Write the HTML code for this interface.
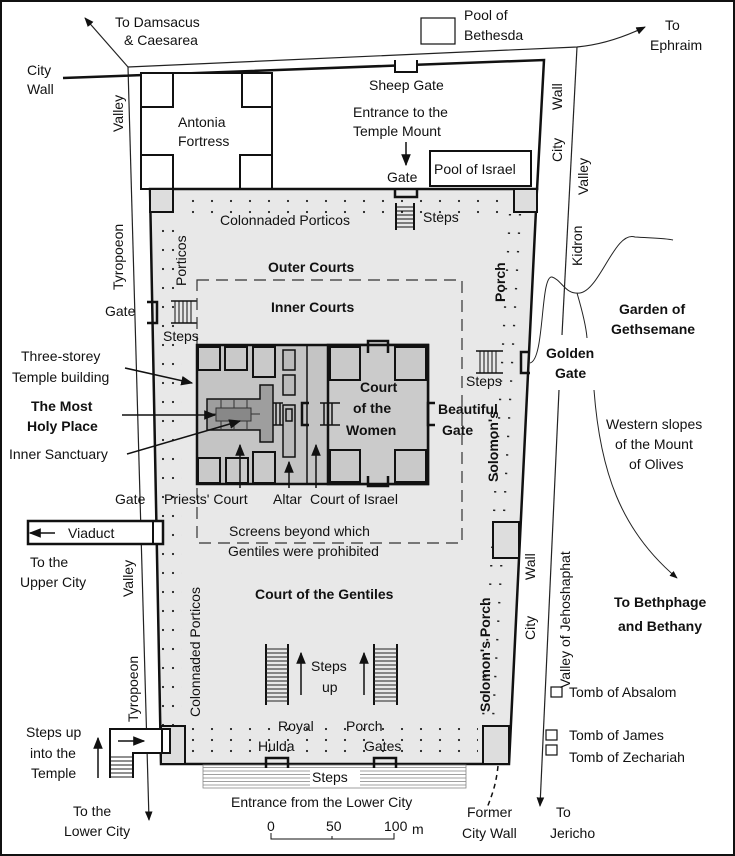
<!DOCTYPE html>
<html><head><meta charset="utf-8"><style>
html,body{margin:0;padding:0;background:#fff}
svg{display:block}
text{font-family:"Liberation Sans",Arial,sans-serif;font-size:14px;fill:#111}
.b{font-weight:bold}
</style></head><body>
<svg width="735" height="856" viewBox="0 0 735 856" xmlns="http://www.w3.org/2000/svg">
<defs>
<pattern id="dots" width="19" height="11" patternUnits="userSpaceOnUse"><circle cx="3" cy="3" r="1.1" fill="#222"/></pattern>
<pattern id="dotsv" width="10" height="19" patternUnits="userSpaceOnUse"><circle cx="3" cy="3" r="1.1" fill="#222"/></pattern>
<marker id="ar" viewBox="0 0 10 10" refX="9" refY="5" markerWidth="8" markerHeight="8" orient="auto-start-reverse"><path d="M0,1 L10,5 L0,9 z" fill="#111"/></marker>
<pattern id="hl" width="10" height="4" patternUnits="userSpaceOnUse"><line x1="0" y1="1" x2="10" y2="1" stroke="#222" stroke-width="1"/></pattern>
<pattern id="hl2" width="10" height="3.5" patternUnits="userSpaceOnUse"><line x1="0" y1="1" x2="10" y2="1" stroke="#888" stroke-width="0.8"/></pattern>
</defs>
<rect x="1" y="1" width="733" height="854" fill="#fff" stroke="#111" stroke-width="2"/>

<path d="M128,67 L577,47 Q610,44 645,27" fill="none" stroke="#222" stroke-width="1.2" marker-end="url(#ar)"/>
<path d="M128,67 L85,18" fill="none" stroke="#222" stroke-width="1.2" marker-end="url(#ar)"/>
<path d="M128,67 L149,820" fill="none" stroke="#222" stroke-width="1.2" marker-end="url(#ar)"/>
<path d="M577,47 L562,335" fill="none" stroke="#222" stroke-width="1.2"/>
<path d="M559,390 L540,806" fill="none" stroke="#222" stroke-width="1.2" marker-end="url(#ar)"/>
<path d="M530,363 C545,360 540,275 552,277 C562,280 565,295 580,293 C600,290 615,230 635,237 C650,238 665,238 673,240" fill="none" stroke="#222" stroke-width="1"/>
<path d="M577,293 C582,310 586,325 587,338" fill="none" stroke="#222" stroke-width="1"/>
<path d="M594,390 C600,470 620,530 677,578" fill="none" stroke="#222" stroke-width="1" marker-end="url(#ar)"/>

<path d="M63,78 L544,60 L537,190" fill="none" stroke="#111" stroke-width="2.5"/>
<rect x="141" y="73" width="131" height="116" fill="#fff" stroke="#111" stroke-width="2"/>
<rect x="141" y="73" width="32" height="34" fill="#fff" stroke="#111" stroke-width="2"/>
<rect x="242" y="73" width="30" height="34" fill="#fff" stroke="#111" stroke-width="2"/>
<rect x="141" y="155" width="32" height="34" fill="#fff" stroke="#111" stroke-width="2"/>
<rect x="240" y="155" width="32" height="34" fill="#fff" stroke="#111" stroke-width="2"/>
<path d="M395,60 L395,72 L417,72 L417,60" fill="#fff" stroke="#111" stroke-width="2"/>
<rect x="430" y="151" width="101" height="35" fill="#fff" stroke="#111" stroke-width="2"/>
<rect x="421" y="18" width="34" height="26" fill="#fff" stroke="#111" stroke-width="1.2"/>

<path d="M150,189 L537,189 L509,764 L161,764 Z" fill="#e8e8e8" stroke="#111" stroke-width="2.5"/>
<g>
<rect x="175" y="197" width="335" height="20" fill="url(#dots)"/>
<rect x="162" y="225" width="20" height="500" fill="url(#dotsv)"/>
<rect x="188" y="728" width="290" height="30" fill="url(#dots)"/>
</g>
<path d="M520,214 L493,720" stroke="#222" stroke-width="2.2" stroke-dasharray="1.5 17" fill="none"/>
<path d="M510,214 L483,720" stroke="#222" stroke-width="2.2" stroke-dasharray="1.5 17" fill="none"/>
<rect x="150" y="189" width="23" height="23" fill="#ddd" stroke="#111" stroke-width="2"/>
<rect x="514" y="189" width="23" height="23" fill="#ddd" stroke="#111" stroke-width="2"/>
<rect x="493" y="522" width="26" height="36" fill="#ddd" stroke="#111" stroke-width="2"/>
<rect x="483" y="726" width="26" height="38" fill="#ddd" stroke="#111" stroke-width="2"/>
<rect x="161" y="726" width="24" height="38" fill="#ddd" stroke="#111" stroke-width="2"/>
<path d="M395,189 L395,197 L417,197 L417,189" fill="none" stroke="#111" stroke-width="2.5"/>
<g stroke="#111" stroke-width="1"><line x1="396" y1="203" x2="396" y2="230" stroke-width="2"/><line x1="414" y1="203" x2="414" y2="230" stroke-width="2"/>
<line x1="396" y1="207" x2="414" y2="207"/><line x1="396" y1="211" x2="414" y2="211"/><line x1="396" y1="215" x2="414" y2="215"/><line x1="396" y1="219" x2="414" y2="219"/><line x1="396" y1="223" x2="414" y2="223"/><line x1="396" y1="227" x2="414" y2="227"/></g>
<path d="M147,302 L157,302 L157,323 L147,323" fill="none" stroke="#111" stroke-width="2.5"/>
<g stroke="#111" stroke-width="1"><line x1="171" y1="301" x2="197" y2="301" stroke-width="1.5"/><line x1="171" y1="323" x2="197" y2="323" stroke-width="1.5"/>
<line x1="175" y1="301" x2="175" y2="323"/><line x1="179" y1="301" x2="179" y2="323"/><line x1="183" y1="301" x2="183" y2="323"/><line x1="187" y1="301" x2="187" y2="323"/><line x1="191" y1="301" x2="191" y2="323"/></g>
<g stroke="#111" stroke-width="1"><line x1="476" y1="351" x2="503" y2="351" stroke-width="1.5"/><line x1="476" y1="373" x2="503" y2="373" stroke-width="1.5"/>
<line x1="480" y1="351" x2="480" y2="373"/><line x1="484" y1="351" x2="484" y2="373"/><line x1="488" y1="351" x2="488" y2="373"/><line x1="492" y1="351" x2="492" y2="373"/><line x1="496" y1="351" x2="496" y2="373"/></g>
<path d="M530,352 L521,352 L521,373 L530,373" fill="none" stroke="#111" stroke-width="2.5"/>

<rect x="197" y="280" width="265" height="263" fill="none" stroke="#333" stroke-width="1.2" stroke-dasharray="12 7"/>

<rect x="197" y="345" width="231" height="139" fill="#c4c4c4" stroke="#111" stroke-width="2.5"/>
<rect x="328" y="345" width="100" height="139" fill="#cbcbcb" stroke="#111" stroke-width="2.5"/>
<line x1="307" y1="345" x2="307" y2="484" stroke="#111" stroke-width="1.5"/>
<g fill="#c9c9c9" stroke="#111" stroke-width="2">
<rect x="330" y="347" width="30" height="33"/><rect x="395" y="347" width="31" height="33"/>
<rect x="330" y="450" width="30" height="32"/><rect x="395" y="450" width="31" height="32"/>
<rect x="198" y="347" width="22" height="23"/><rect x="225" y="347" width="22" height="23"/><rect x="253" y="347" width="22" height="30"/>
<rect x="198" y="458" width="22" height="25"/><rect x="226" y="458" width="22" height="25"/><rect x="253" y="452" width="22" height="31"/>
</g>
<g stroke="#111" stroke-width="1.5" fill="#bbb">
<rect x="283" y="350" width="12" height="20"/><rect x="283" y="375" width="12" height="20"/>
<rect x="283" y="405" width="12" height="52"/><rect x="286" y="409" width="6" height="12"/>
</g>
<path d="M260,385 L273,385 L273,442 L260,442 L260,430 L207,430 L207,399 L260,399 Z" fill="#9e9e9e" stroke="#111" stroke-width="1.5"/>
<g stroke="#333" stroke-width="1" fill="none"><line x1="221" y1="399" x2="221" y2="430"/><line x1="234" y1="399" x2="234" y2="430"/><line x1="247" y1="399" x2="247" y2="430"/><line x1="207" y1="414" x2="260" y2="414"/></g>
<rect x="216" y="408" width="35" height="13" fill="#888" stroke="#333" stroke-width="1"/>
<g stroke="#111" stroke-width="1.5" fill="none">
<line x1="273" y1="403" x2="283" y2="403"/><line x1="273" y1="425" x2="283" y2="425"/><line x1="276" y1="403" x2="276" y2="425"/><line x1="280" y1="403" x2="280" y2="425"/>
<line x1="320" y1="403" x2="340" y2="403"/><line x1="320" y1="425" x2="340" y2="425"/><line x1="324" y1="403" x2="324" y2="425"/><line x1="328" y1="403" x2="328" y2="425"/><line x1="332" y1="403" x2="332" y2="425"/>
</g>
<path d="M309,403 L302,403 L302,425 L309,425" fill="none" stroke="#111" stroke-width="2.5"/>
<path d="M435,403 L428,403 L428,425 L435,425" fill="none" stroke="#111" stroke-width="2.5"/>
<path d="M368,353 L368,341 L388,341 L388,353" fill="none" stroke="#111" stroke-width="2.5"/>
<path d="M368,476 L368,486 L388,486 L388,476" fill="none" stroke="#111" stroke-width="2.5"/>

<g stroke="#111" stroke-width="1.5" fill="none">
<line x1="240" y1="488" x2="240" y2="445" marker-end="url(#ar)"/>
<line x1="289" y1="488" x2="289" y2="462" marker-end="url(#ar)"/>
<line x1="316" y1="488" x2="316" y2="445" marker-end="url(#ar)"/>
<line x1="125" y1="368" x2="192" y2="383" marker-end="url(#ar)"/>
<line x1="122" y1="415" x2="215" y2="415" marker-end="url(#ar)"/>
<line x1="127" y1="454" x2="240" y2="421" marker-end="url(#ar)"/>
<line x1="406" y1="142" x2="406" y2="165" marker-end="url(#ar)"/>
<line x1="301" y1="695" x2="301" y2="653" marker-end="url(#ar)"/>
<line x1="364" y1="695" x2="364" y2="653" marker-end="url(#ar)"/>
<line x1="98" y1="778" x2="98" y2="738" marker-end="url(#ar)"/>
<line x1="118" y1="741" x2="144" y2="741" marker-end="url(#ar)"/>
</g>
<g stroke="#111" stroke-width="2">
<line x1="266" y1="644" x2="266" y2="705"/><line x1="288" y1="644" x2="288" y2="705"/>
<line x1="374" y1="644" x2="374" y2="705"/><line x1="397" y1="644" x2="397" y2="705"/>
</g>
<rect x="266" y="646" width="22" height="58" fill="url(#hl)"/>
<rect x="374" y="646" width="23" height="58" fill="url(#hl)"/>
<rect x="203" y="765" width="263" height="23" fill="url(#hl2)" stroke="#888" stroke-width="0.8"/>
<rect x="310" y="768" width="50" height="18" fill="#fff"/>
<path d="M266,768 L266,758 L288,758 L288,768" fill="none" stroke="#111" stroke-width="2.5"/>
<path d="M374,768 L374,758 L396,758 L396,768" fill="none" stroke="#111" stroke-width="2.5"/>
<path d="M110,778 L110,729 L170,729 L170,753 L133,753 L133,778" fill="#fff" stroke="#111" stroke-width="2"/>
<rect x="111" y="756" width="21" height="22" fill="url(#hl)"/>
<rect x="162" y="729" width="8" height="24" fill="none" stroke="#111" stroke-width="2"/>
<line x1="118" y1="741" x2="144" y2="741" stroke="#111" stroke-width="1.5" marker-end="url(#ar)"/>
<rect x="28" y="521" width="135" height="23" fill="#fff" stroke="#111" stroke-width="2.5"/>
<rect x="153" y="521" width="10" height="23" fill="none" stroke="#111" stroke-width="2"/>
<line x1="55" y1="533" x2="30" y2="533" stroke="#111" stroke-width="1.5" marker-end="url(#ar)"/>
<path d="M498,766 C496,785 492,795 487,808" fill="none" stroke="#111" stroke-width="1.5" stroke-dasharray="5 4"/>
<rect x="551" y="687" width="11" height="10" fill="#fff" stroke="#111" stroke-width="1.2"/>
<rect x="546" y="730" width="11" height="10" fill="#fff" stroke="#111" stroke-width="1.2"/>
<rect x="546" y="745" width="11" height="10" fill="#fff" stroke="#111" stroke-width="1.2"/>
<path d="M271,833 L271,839 L394,839 L394,833 M332,836 L332,839" fill="none" stroke="#111" stroke-width="1"/>

<text x="115" y="27">To Damsacus</text>
<text x="124" y="45">&amp; Caesarea</text>
<text x="464" y="20">Pool of</text>
<text x="464" y="40">Bethesda</text>
<text x="665" y="30">To</text>
<text x="650" y="50">Ephraim</text>
<text x="27" y="75">City</text>
<text x="27" y="94">Wall</text>
<text x="178" y="127">Antonia</text>
<text x="178" y="146">Fortress</text>
<text x="369" y="90">Sheep Gate</text>
<text x="353" y="117">Entrance to the</text>
<text x="353" y="136">Temple Mount</text>
<text x="387" y="182">Gate</text>
<text x="434" y="174">Pool of Israel</text>
<text x="220" y="225">Colonnaded Porticos</text>
<text x="423" y="222">Steps</text>
<text x="268" y="272" class="b">Outer Courts</text>
<text x="271" y="312" class="b">Inner Courts</text>
<text x="105" y="316">Gate</text>
<text x="163" y="341">Steps</text>
<text x="21" y="361">Three-storey</text>
<text x="12" y="382">Temple building</text>
<text x="31" y="411" class="b">The Most</text>
<text x="27" y="431" class="b">Holy Place</text>
<text x="9" y="459">Inner Sanctuary</text>
<text x="360" y="392" class="b" font-size="15">Court</text>
<text x="353" y="413" class="b" font-size="15">of the</text>
<text x="346" y="435" class="b" font-size="15">Women</text>
<text x="438" y="414" class="b">Beautiful</text>
<text x="442" y="435" class="b">Gate</text>
<text x="466" y="386">Steps</text>
<text x="546" y="358" class="b">Golden</text>
<text x="555" y="378" class="b">Gate</text>
<text x="619" y="314" class="b">Garden of</text>
<text x="611" y="334" class="b">Gethsemane</text>
<text x="606" y="429">Western slopes</text>
<text x="615" y="449">of the Mount</text>
<text x="629" y="469">of Olives</text>
<text x="614" y="607" class="b">To Bethphage</text>
<text x="618" y="631" class="b">and Bethany</text>
<text x="164" y="504">Priests' Court</text>
<text x="273" y="504">Altar</text>
<text x="310" y="504">Court of Israel</text>
<text x="229" y="536">Screens beyond which</text>
<text x="228" y="556">Gentiles were prohibited</text>
<text x="115" y="504">Gate</text>
<text x="68" y="538">Viaduct</text>
<text x="30" y="567">To the</text>
<text x="20" y="587">Upper City</text>
<text x="255" y="599" class="b">Court of the Gentiles</text>
<text x="311" y="671">Steps</text>
<text x="322" y="692">up</text>
<text x="278" y="731">Royal</text>
<text x="346" y="731">Porch</text>
<text x="258" y="751">Hulda</text>
<text x="364" y="751">Gates</text>
<text x="312" y="782">Steps</text>
<text x="231" y="807">Entrance from the Lower City</text>
<text x="26" y="737">Steps up</text>
<text x="30" y="758">into the</text>
<text x="31" y="778">Temple</text>
<text x="73" y="816">To the</text>
<text x="64" y="836">Lower City</text>
<text x="267" y="831" font-size="11">0</text>
<text x="326" y="831" font-size="11">50</text>
<text x="384" y="831" font-size="11">100</text>
<text x="412" y="834" font-size="11">m</text>
<text x="467" y="817">Former</text>
<text x="462" y="838">City Wall</text>
<text x="556" y="817">To</text>
<text x="550" y="838">Jericho</text>
<text x="569" y="697">Tomb of Absalom</text>
<text x="569" y="740">Tomb of James</text>
<text x="569" y="762">Tomb of Zechariah</text>

<text transform="translate(123,132) rotate(-90)">Valley</text>
<text transform="translate(123,290) rotate(-90)">Tyropoeon</text>
<text transform="translate(186,286) rotate(-90)">Porticos</text>
<text transform="translate(133,597) rotate(-90)">Valley</text>
<text transform="translate(138,722) rotate(-90)">Tyropoeon</text>
<text transform="translate(200,717) rotate(-90)">Colonnaded Porticos</text>
<text transform="translate(562,110) rotate(-90)">Wall</text>
<text transform="translate(562,162) rotate(-90)">City</text>
<text transform="translate(588,195) rotate(-90)">Valley</text>
<text transform="translate(582,266) rotate(-90)">Kidron</text>
<text class="b" transform="translate(505,302) rotate(-90)">Porch</text>
<text class="b" transform="translate(498,482) rotate(-90)">Solomon's</text>
<text class="b" transform="translate(490,712) rotate(-90)">Solomon's Porch</text>
<text transform="translate(535,580) rotate(-90)">Wall</text>
<text transform="translate(535,640) rotate(-90)">City</text>
<text transform="translate(570,688) rotate(-90)">Valley of Jehoshaphat</text>
</svg>
</body></html>
